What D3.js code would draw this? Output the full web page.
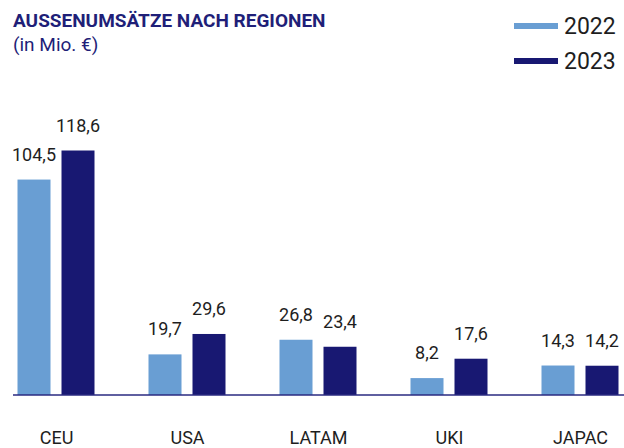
<!DOCTYPE html>
<html>
<head>
<meta charset="utf-8">
<script src="https://cdn.jsdelivr.net/npm/d3@7"></script>
<style>
  html, body { margin: 0; padding: 0; background: #ffffff; }
  svg { display: block; }
</style>
</head>
<body>
<svg id="chart" width="624" height="448"></svg>
<script>
const categories = ["CEU", "USA", "LATAM", "UKI", "JAPAC"];
const years = ["2022", "2023"];
const values2022 = [104.5, 19.7, 26.8, 8.2, 14.3];
const values2023 = [118.6, 29.6, 23.4, 17.6, 14.2];
const valueLabels2022 = ["104,5", "19,7", "26,8", "8,2", "14,3"];
const valueLabels2023 = ["118,6", "29,6", "23,4", "17,6", "14,2"];
const titleText = "AUSSENUMSÄTZE NACH REGIONEN";
const subtitleText = "(in Mio. €)";

const colors = { "2022": "#699ed3", "2023": "#181872" };
const navy = "#1f1f78";
const textColor = "#1e1e1e";

const svg = d3.select("#chart");

const x = d3.scalePoint().domain(categories).range([56, 580]);
const xSub = d3.scaleBand().domain(years).range([-38.5, 38.5]).paddingInner(0.25);
const y = d3.scaleLinear().domain([0, 118.6]).range([395, 150.5]);

const rows = [];
categories.forEach((c, i) => {
  rows.push({ cat: c, year: "2022", value: values2022[i], label: valueLabels2022[i] });
  rows.push({ cat: c, year: "2023", value: values2023[i], label: valueLabels2023[i] });
});

// Title
svg.append("text")
  .attr("x", 13).attr("y", 27)
  .attr("font-family", "Roboto, 'Noto Sans', sans-serif")
  .attr("font-weight", 700)
  .attr("font-size", 19)
  .attr("fill", navy)
  .text(titleText);

svg.append("text")
  .attr("x", 13).attr("y", 51)
  .attr("font-family", "Roboto, 'Noto Sans', sans-serif")
  .attr("font-size", 19)
  .attr("fill", navy)
  .text(subtitleText);

// Legend
const legend = svg.append("g");
years.forEach((yr, i) => {
  const ly = 26 + i * 35;
  legend.append("rect")
    .attr("x", 514).attr("y", ly - 3)
    .attr("width", 44).attr("height", 6)
    .attr("fill", colors[yr]);
  legend.append("text")
    .attr("x", 564).attr("y", ly + 8)
    .attr("font-family", "Roboto, 'Noto Sans', sans-serif")
    .attr("font-size", 23)
    .attr("fill", textColor)
    .text(yr);
});

// Bars
const g = svg.append("g");
g.selectAll("rect.bar")
  .data(rows)
  .join("rect")
  .attr("class", "bar")
  .attr("x", d => x(d.cat) + xSub(d.year))
  .attr("y", d => y(d.value))
  .attr("width", xSub.bandwidth())
  .attr("height", d => y(0) - y(d.value))
  .attr("fill", d => colors[d.year]);

// Value labels
g.selectAll("text.val")
  .data(rows)
  .join("text")
  .attr("class", "val")
  .attr("x", d => x(d.cat) + xSub(d.year) + xSub.bandwidth() / 2)
  .attr("y", d => y(d.value) - 19)
  .attr("text-anchor", "middle")
  .attr("font-family", "Roboto, 'Noto Sans', sans-serif")
  .attr("font-size", 18)
  .attr("fill", textColor)
  .text(d => d.label);

// Baseline axis
const axis = d3.axisBottom(x).tickSize(0).tickPadding(0);
const axisG = svg.append("g")
  .attr("transform", `translate(0, ${y(0)})`)
  .call(axis);
axisG.select(".domain").remove();
axisG.append("line")
  .attr("x1", 13).attr("x2", 624)
  .attr("y1", 0).attr("y2", 0)
  .attr("stroke", "#2a2a80")
  .attr("stroke-width", 1.6);
axisG.selectAll(".tick text")
  .attr("y", 49)
  .attr("dy", 0)
  .attr("font-family", "Roboto, 'Noto Sans', sans-serif")
  .attr("font-size", 18)
  .attr("fill", textColor);
</script>
</body>
</html>
